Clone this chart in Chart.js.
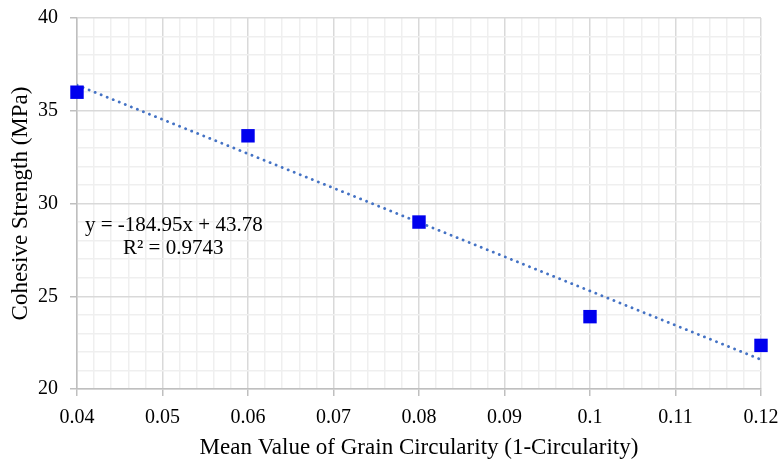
<!DOCTYPE html>
<html>
<head>
<meta charset="utf-8">
<script src="https://cdn.jsdelivr.net/npm/chart.js@4/dist/chart.umd.min.js"></script>
<style>
html,body{margin:0;padding:0;background:#fff;}
#wrap{width:778px;height:462px;position:relative;}
</style>
</head>
<body>
<div id="wrap"><canvas id="c" width="778" height="462"></canvas></div>
<script>
const circularity = [0.04, 0.06, 0.08, 0.10, 0.12];
const cohesiveStrength = [36.0, 33.65, 29.0, 23.9, 22.35];
const trendSlope = -184.95;
const trendIntercept = 43.78;
const trendX = [0.04, 0.12];
const equationLabel = "y = -184.95x + 43.78";
const r2Label = "R² = 0.9743";
const xTitle = "Mean Value of Grain Circularity (1-Circularity)";
const yTitle = "Cohesive Strength (MPa)";

const pts = circularity.map((x, i) => ({x: x, y: cohesiveStrength[i]}));
const trendPts = trendX.map(x => ({x: x, y: trendSlope * x + trendIntercept}));

const FONT = "'Liberation Serif', 'Times New Roman', serif";

const labelPlugin = {
  id: 'eqLabel',
  afterDatasetsDraw(chart) {
    const ctx = chart.ctx;
    ctx.save();
    ctx.fillStyle = '#000';
    ctx.font = "21px " + FONT;
    ctx.textBaseline = 'alphabetic';
    ctx.textAlign = 'left';
    ctx.fillText(equationLabel, 85, 231);
    ctx.fillText(r2Label, 123, 254);
    ctx.restore();
  }
};

new Chart(document.getElementById('c'), {
  type: 'scatter',
  data: {
    datasets: [
      {
        type: 'line',
        data: trendPts,
        borderColor: '#4472C4',
        borderWidth: 2.8,
        borderDash: [0.1, 6.4],
        borderCapStyle: 'round',
        pointRadius: 0,
        fill: false,
        order: 2
      },
      {
        data: pts,
        backgroundColor: '#0000EE',
        borderColor: '#0000EE',
        pointStyle: 'rect',
        pointRadius: 9.5,
        borderWidth: 0,
        clip: false,
        order: 1
      }
    ]
  },
  options: {
    responsive: false,
    maintainAspectRatio: false,
    animation: false,
    devicePixelRatio: 1,
    layout: {padding: {left: 0, right: 17, top: 18, bottom: 0}},
    plugins: {legend: {display: false}, tooltip: {enabled: false}},
    scales: {
      x: {
        type: 'linear',
        min: 0.04, max: 0.12,
        afterFit(s) { s.height = 73; s.paddingLeft = 0; s.paddingRight = 0; },
        ticks: {
          stepSize: 0.002,
          autoSkip: false,
          maxRotation: 0,
          color: '#000',
          font: {family: FONT, size: 20},
          padding: 10,
          callback(v) {
            const k = Math.round(v * 1000);
            if (k % 10 !== 0) return '';
            return String(Math.round(v * 100) / 100);
          }
        },
        grid: {
          color(c) { const k = Math.round(c.tick.value * 1000); return k % 10 === 0 ? '#d9d9d9' : '#efefef'; },
          tickColor(c) { const k = Math.round(c.tick.value * 1000); return k % 10 === 0 ? '#bfbfbf' : 'rgba(0,0,0,0)'; },
          lineWidth: 1.5,
          tickLength: 7
        },
        border: {color: '#bfbfbf', width: 1.5},
        title: {display: true, text: xTitle, color: '#000', font: {family: FONT, size: 23}, padding: {top: 0, bottom: 0}}
      },
      y: {
        type: 'linear',
        min: 20, max: 40,
        afterFit(s) { s.width = 77; s.paddingTop = 0; s.paddingBottom = 0; },
        ticks: {
          stepSize: 1,
          autoSkip: false,
          color: '#000',
          font: {family: FONT, size: 20},
          padding: 12,
          callback(v) { return (Math.round(v) % 5 === 0) ? String(Math.round(v)) : ''; }
        },
        grid: {
          color(c) { return Math.round(c.tick.value) % 5 === 0 ? '#d9d9d9' : '#efefef'; },
          tickColor(c) { return Math.round(c.tick.value) % 5 === 0 ? '#bfbfbf' : 'rgba(0,0,0,0)'; },
          lineWidth: 1.5,
          tickLength: 7
        },
        border: {color: '#bfbfbf', width: 1.5},
        title: {display: true, text: yTitle, color: '#000', font: {family: FONT, size: 23}, padding: {top: 7, bottom: 7}}
      }
    }
  },
  plugins: [labelPlugin]
});
</script>
</body>
</html>
